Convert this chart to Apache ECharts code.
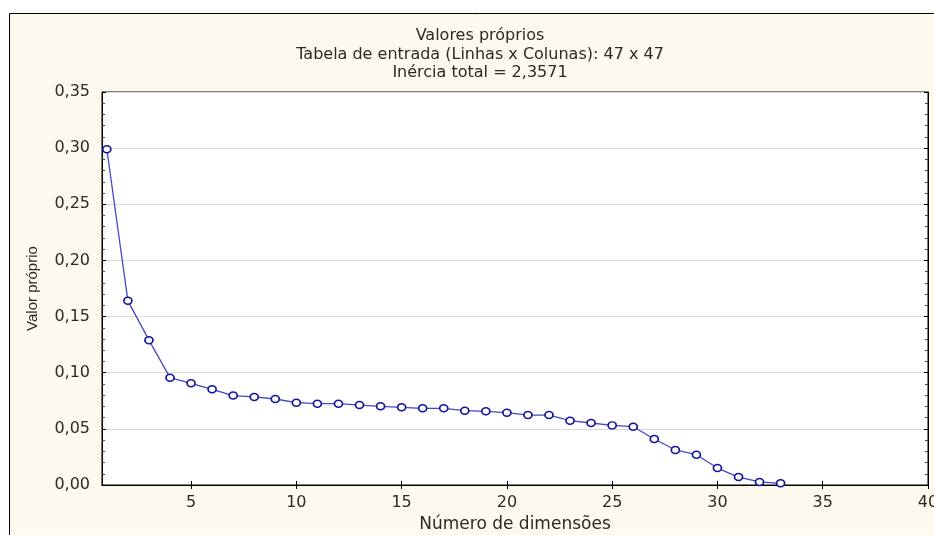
<!DOCTYPE html>
<html>
<head>
<meta charset="utf-8">
<script src="https://cdn.jsdelivr.net/npm/echarts@6/dist/echarts.min.js"></script>
<style>html,body{margin:0;padding:0;background:#fff;}#c{width:934px;height:535px;}</style>
</head>
<body>
<div id="c"></div>
<script>
// Data
const dimensions = [1,2,3,4,5,6,7,8,9,10,11,12,13,14,15,16,17,18,19,20,21,22,23,24,25,26,27,28,29,30,31,32,33];
const eigenvalues = [0.299,0.164,0.129,0.0956,0.0906,0.0852,0.0796,0.0784,0.0766,0.0733,0.0724,0.0724,0.0712,0.0701,0.0692,0.0683,0.0683,0.0662,0.0656,0.0644,0.0623,0.0623,0.0573,0.0552,0.0531,0.0519,0.041,0.0312,0.027,0.0151,0.0071,0.0027,0.0015];
const xTickValues = [5,10,15,20,25,30,35,40];
const titleLines = ['Valores próprios','Tabela de entrada (Linhas x Colunas): 47 x 47','Inércia total = 2,3571'];
const xName = 'Número de dimensões';
const yName = 'Valor próprio';

const chart = echarts.init(document.getElementById('c'));
const fmt = v => v.toFixed(2).replace('.', ',');
const labelFont = {fontFamily: 'DejaVu Sans', fontSize: 16, color: '#2a2a2a'};

chart.setOption({
  backgroundColor: '#ffffff',
  animation: false,
  graphic: [{
    type: 'rect', z: -100, silent: true,
    shape: {x: 9.5, y: 13.5, width: 940, height: 540},
    style: {fill: '#fdf9ee', stroke: '#000', lineWidth: 1}
  }],
  title: {
    text: titleLines.join('\n'),
    left: 480, top: 27, padding: 0, textAlign: 'center',
    textStyle: {fontFamily: 'DejaVu Sans', fontSize: 16, fontWeight: 'normal', color: '#2a2a2a', lineHeight: 18.5}
  },
  grid: {
    left: 102, top: 92, right: 6, bottom: 50,
    outerBoundsMode: 'none', containLabel: false,
    show: true, backgroundColor: '#ffffff', borderColor: '#000', borderWidth: 1
  },
  xAxis: [{
    type: 'value', min: 0.77, max: 40, position: 'bottom',
    name: xName, nameLocation: 'middle', nameGap: 30,
    nameTextStyle: {fontFamily: 'DejaVu Sans', fontSize: 17, color: '#2a2a2a'},
    axisLine: {show: true, lineStyle: {color: '#000', width: 1}},
    axisTick: {show: true, inside: true, length: 4, customValues: xTickValues, lineStyle: {color: '#000'}},
    axisLabel: Object.assign({show: true, margin: 10, customValues: xTickValues, formatter: v => String(v)}, labelFont),
    splitLine: {show: false}
  }, {
    type: 'value', min: 0.77, max: 40, position: 'top',
    axisLine: {show: true, lineStyle: {color: '#000', width: 1}},
    axisTick: {show: true, inside: true, length: 4, customValues: xTickValues, lineStyle: {color: '#000'}},
    axisLabel: {show: false},
    splitLine: {show: false}
  }],
  yAxis: [{
    type: 'value', min: 0, max: 0.35, interval: 0.05, position: 'left',
    name: yName, nameLocation: 'middle', nameGap: 62,
    nameTextStyle: {fontFamily: 'Liberation Sans', fontSize: 15, color: '#2a2a2a'},
    axisLine: {show: true, lineStyle: {color: '#000', width: 1}},
    axisTick: {show: true, inside: true, length: 4, lineStyle: {color: '#000'}},
    minorTick: {show: true, splitNumber: 5, length: 3, lineStyle: {color: '#444'}},
    axisLabel: Object.assign({margin: 12, formatter: fmt}, labelFont),
    splitLine: {show: true, lineStyle: {color: '#d9d9d9', width: 1}},
    minorSplitLine: {show: false}
  }, {
    type: 'value', min: 0, max: 0.35, interval: 0.05, position: 'right',
    axisLine: {show: true, lineStyle: {color: '#000', width: 1}},
    axisTick: {show: true, inside: true, length: 4, lineStyle: {color: '#000'}},
    minorTick: {show: true, splitNumber: 5, length: 3, lineStyle: {color: '#444'}},
    axisLabel: {show: false},
    splitLine: {show: false}
  }],
  series: [{
    type: 'line',
    data: dimensions.map((d, i) => [d, eigenvalues[i]]),
    symbol: 'circle', symbolSize: [8, 7],
    lineStyle: {color: '#4646c8', width: 1.3},
    itemStyle: {color: '#ffffff', borderColor: '#14149c', borderWidth: 1.6},
    clip: false
  }]
});
</script>
</body>
</html>
